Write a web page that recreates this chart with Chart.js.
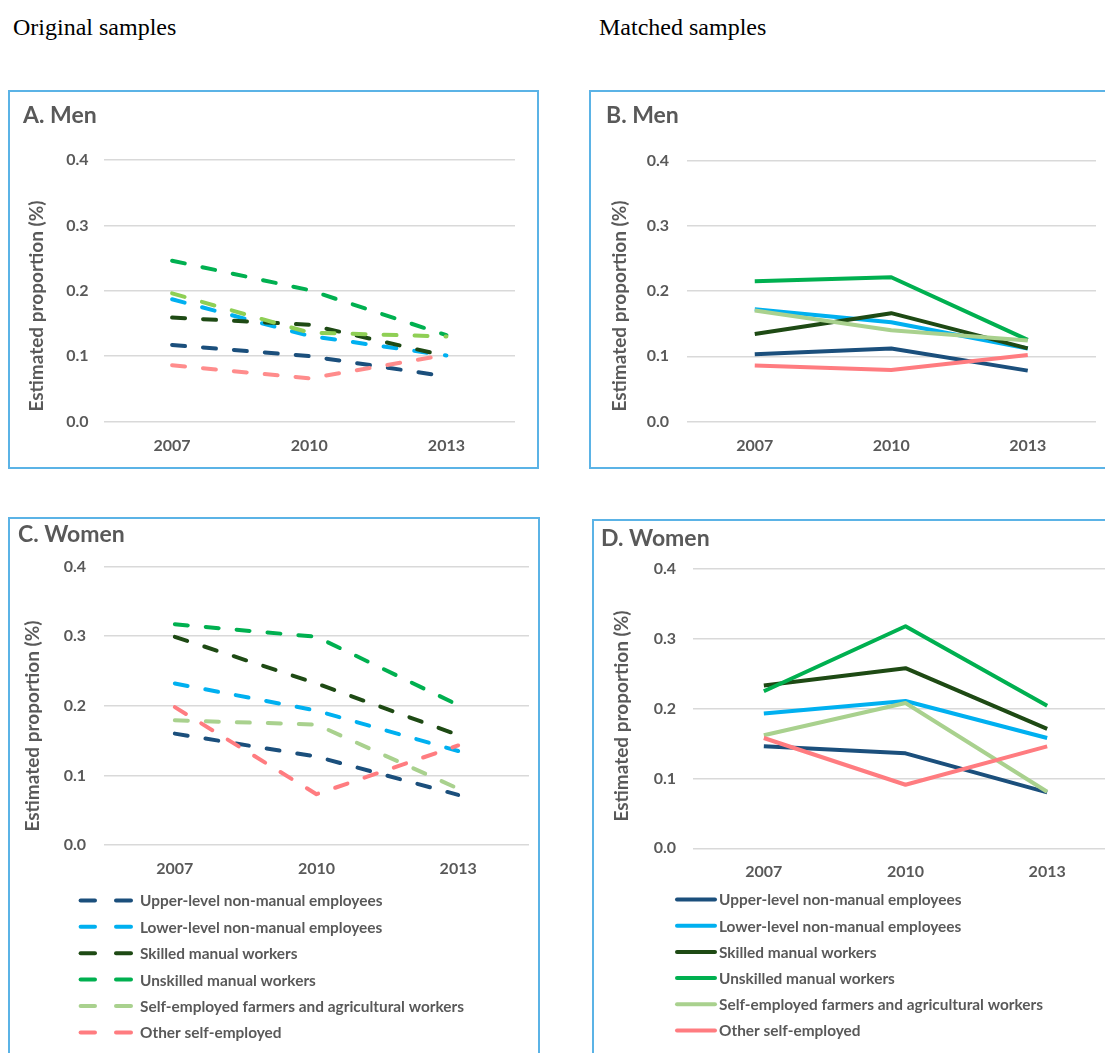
<!DOCTYPE html>
<html>
<head>
<meta charset="utf-8">
<script src="https://cdn.jsdelivr.net/npm/chart.js@4.4.1/dist/chart.umd.min.js"></script>
<style>
  body { margin: 0; background: #fff; width: 1105px; height: 1053px; overflow: hidden; position: relative; }
  .cap { position: absolute; font-family: "Liberation Serif", "Times New Roman", serif; font-size: 24px; color: #000; line-height: 1; }
  .panel { position: absolute; border: 2px solid #5BB3E6; box-sizing: border-box; background: #fff; }
  .panel canvas { display: block; }
</style>
</head>
<body>
<div class="cap" style="left:13px; top:15px;">Original samples</div>
<div class="cap" style="left:599px; top:15px;">Matched samples</div>

<div class="panel" style="left:8px; top:90px; width:531px; height:379px;"><canvas id="chartA" width="527" height="375"></canvas></div>
<div class="panel" style="left:589px; top:90px; width:542px; height:379px;"><canvas id="chartB" width="538" height="375"></canvas></div>
<div class="panel" style="left:8px; top:517px; width:532px; height:560px;"><canvas id="chartC" width="528" height="540"></canvas></div>
<div class="panel" style="left:592px; top:519px; width:534px; height:560px;"><canvas id="chartD" width="530" height="540"></canvas></div>

<script>
const years = ['2007', '2010', '2013'];
const groups = [
  'Upper-level non-manual employees',
  'Lower-level non-manual employees',
  'Skilled manual workers',
  'Unskilled manual workers',
  'Self-employed farmers and agricultural workers',
  'Other self-employed'
];
const yTicks = [0, 0.1, 0.2, 0.3, 0.4];

// rows follow the order of groups, columns follow years
const menOriginal = [
  [0.117, 0.100, 0.069],
  [0.187, 0.131, 0.101],
  [0.159, 0.148, 0.100],
  [0.246, 0.201, 0.132],
  [0.196, 0.136, 0.130],
  [0.086, 0.066, 0.102]
];
const menMatched = [
  [0.103, 0.112, 0.078],
  [0.172, 0.152, 0.112],
  [0.134, 0.166, 0.112],
  [0.215, 0.221, 0.125],
  [0.170, 0.140, 0.124],
  [0.086, 0.079, 0.102]
];
const womenOriginal = [
  [0.160, 0.127, 0.072],
  [0.232, 0.193, 0.135],
  [0.299, 0.232, 0.158],
  [0.317, 0.299, 0.201],
  [0.179, 0.173, 0.081],
  [0.198, 0.073, 0.143]
];
const womenMatched = [
  [0.146, 0.136, 0.080],
  [0.193, 0.211, 0.158],
  [0.233, 0.258, 0.171],
  [0.225, 0.318, 0.204],
  [0.162, 0.208, 0.081],
  [0.158, 0.091, 0.146]
];

const colors = ['#1B4F7C', '#00B0F0', '#1E4A14', '#00B050', '#A9D18E', '#FF7C80'];
const grey = '#595959';

Chart.defaults.font.family = 'Lato, "Open Sans", sans-serif';
Chart.defaults.color = grey;

// vertical axis title, placed like the Excel one (centred a little lower than the grid)
const yTitlePlugin = {
  id: 'yTitle',
  afterDraw(chart, args, opts) {
    const ctx = chart.ctx;
    ctx.save();
    ctx.translate(opts.x, opts.y);
    ctx.rotate(-Math.PI / 2);
    ctx.font = 'bold 19px Lato, sans-serif';
    ctx.fillStyle = grey;
    ctx.textAlign = 'center';
    ctx.textBaseline = 'middle';
    ctx.fillText(opts.text, 0, 0);
    ctx.restore();
  }
};

// one legend entry per row under the plot
const legendRows = {
  id: 'legendRows',
  afterDraw(chart, args, opts) {
    if (!opts.show) return;
    const ctx = chart.ctx;
    chart.data.datasets.forEach((ds, i) => {
      const y = opts.top + i * opts.gap;
      ctx.save();
      ctx.strokeStyle = ds.borderColor;
      ctx.lineWidth = 4;
      ctx.lineCap = 'round';
      opts.segments.forEach(([x1, x2]) => {
        ctx.beginPath();
        ctx.moveTo(x1, y);
        ctx.lineTo(x2, y);
        ctx.stroke();
      });
      ctx.font = 'bold 15.4px Lato, sans-serif';
      ctx.fillStyle = grey;
      ctx.textBaseline = 'middle';
      ctx.fillText(ds.label, opts.textX, y + 1);
      ctx.restore();
    });
  }
};

function makeChart(id, title, values, dashed, g) {
  const canvas = document.getElementById(id);
  const H = canvas.height;
  const datasets = values.map((row, i) => ({
    label: groups[i],
    data: row,
    borderColor: (g.colors || colors)[i],
    backgroundColor: (g.colors || colors)[i],
    borderWidth: 4,
    borderDash: dashed ? [13, 18] : [],
    borderCapStyle: dashed ? 'round' : 'butt',
    borderJoinStyle: 'round',
    pointRadius: 0,
    tension: 0,
    order: groups.length - i
  }));

  return new Chart(canvas, {
    type: 'line',
    data: { labels: years, datasets },
    options: {
      responsive: false,
      animation: false,
      devicePixelRatio: 1,
      layout: { padding: { left: g.padLeft, right: g.padRight, top: 0, bottom: 0 } },
      plugins: {
        legend: { display: false },
        tooltip: { enabled: false },
        title: {
          display: true,
          text: title,
          align: 'start',
          color: grey,
          font: { size: 23, weight: 'bold' },
          padding: { top: g.titleTop, bottom: g.titleBottom }
        },
        yTitle: { text: 'Estimated proportion (%)', x: g.yTitleX, y: g.yTitleY },
        legendRows: g.legend ? Object.assign({ show: true }, g.legend) : { show: false }
      },
      scales: {
        x: {
          offset: true,
          grid: { display: false, drawTicks: false },
          border: { display: false },
          ticks: { padding: g.xTickPad, color: grey, font: { size: 16, weight: 'bold' } },
          afterFit: scale => { scale.height = H - g.bottom; }
        },
        y: {
          min: yTicks[0],
          max: yTicks[yTicks.length - 1],
          afterBuildTicks: scale => { scale.ticks = yTicks.map(v => ({ value: v })); },
          grid: { color: '#D9D9D9', lineWidth: 1.5, drawTicks: false },
          border: { display: false },
          ticks: {
            padding: g.yTickPad,
            color: grey,
            font: { size: 16, weight: 'bold' },
            callback: value => value.toFixed(1)
          },
          afterFit: scale => { scale.width = g.yWidth; }
        }
      }
    },
    plugins: [yTitlePlugin, legendRows]
  });
}

makeChart('chartA', 'A. Men', menOriginal, true, {
  padLeft: 13, padRight: 22, yWidth: 80.5, titleTop: 9.4, titleBottom: 31.0,
  yTickPad: 15, xTickPad: 15, bottom: 329.5, yTitleX: 27, yTitleY: 214,
  colors: ['#1B4F7C', '#00B0F0', '#1E4A14', '#00B050', '#8FCF55', '#FF8C8C']
});
makeChart('chartB', 'B. Men', menMatched, false, {
  padLeft: 15, padRight: 33, yWidth: 80.5, titleTop: 9.4, titleBottom: 31.5,
  yTickPad: 17.5, xTickPad: 15, bottom: 329.5, yTitleX: 28.5, yTitleY: 214,
});
makeChart('chartC', 'C. Women', womenOriginal, true, {
  padLeft: 8, padRight: 9, yWidth: 86, titleTop: 2.2, titleBottom: 17.7,
  yTickPad: 18, xTickPad: 14.5, bottom: 326, yTitleX: 22.5, yTitleY: 207,
  legend: { top: 381.4, gap: 26.4, segments: [[70.6, 85], [106, 121]], textX: 130 }
});
makeChart('chartD', 'D. Women', womenMatched, false, {
  padLeft: 7, padRight: 6, yWidth: 92, titleTop: 4.2, titleBottom: 16.2,
  yTickPad: 17, xTickPad: 13.5, bottom: 327.3, yTitleX: 28, yTitleY: 195,
  legend: { top: 378.5, gap: 26.2, segments: [[83, 121]], textX: 125 }
});
</script>
</body>
</html>
